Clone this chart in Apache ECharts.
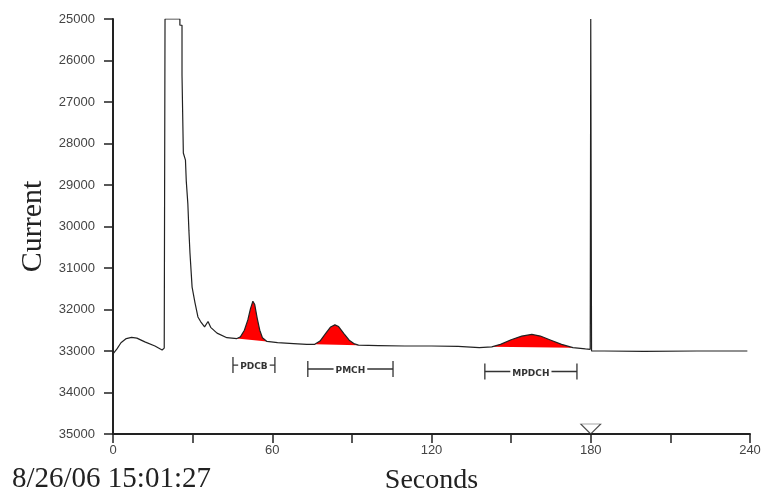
<!DOCTYPE html>
<html>
<head>
<meta charset="utf-8">
<script src="https://cdn.jsdelivr.net/npm/echarts@6/dist/echarts.min.js"></script>
<style>
  html, body { margin: 0; padding: 0; background: #fff; }
  #main { width: 771px; height: 491px; }
</style>
</head>
<body>
<div id="main"></div>
<script>
// detector trace (seconds, current)
var traceT = [0, 1.5, 3, 5, 7, 9, 12, 15.8, 18.5, 19.3, 19.6, 25.2, 25.2, 26, 26, 26.5, 26.5, 27.3, 27.6, 28.2, 28.6, 29, 29.8, 30.9, 32,
  33, 34.5, 35.8, 36.8, 39.2, 42.9, 46.7,
  48, 49.5, 50.8, 51.8, 52.7, 53.4, 54.3, 55.3, 56.3, 58,
  62, 68, 73, 76,
  78, 80, 82, 83.6, 85, 87, 89, 91, 92.5,
  100, 110, 120, 130, 138, 142.7,
  146, 150, 154, 157.8, 161, 165, 169, 173.3,
  178, 179.8, 180, 180.3, 185, 200, 220, 239];
var traceV = [33070, 32950, 32800, 32700, 32670, 32690, 32780, 32880, 32975, 32930, 25000, 25000, 25150, 25150, 26350, 26350, 28230, 28400, 28900, 29450, 30100, 30640, 31460, 31840, 32180,
  32290, 32420, 32290, 32430, 32570, 32680, 32700,
  32660, 32500, 32250, 31980, 31800, 31880, 32200, 32500, 32680, 32770,
  32800, 32820, 32840, 32840,
  32760, 32590, 32420, 32370, 32410, 32580, 32740, 32830, 32860,
  32870, 32880, 32880, 32890, 32920, 32900,
  32840, 32730, 32640, 32600, 32640, 32740, 32840, 32920,
  32950, 32960, 25000, 33000, 33000, 33010, 33000, 33000];

// integrated peaks (red areas)
var peakStart = [46.7, 76, 142.7];
var peakEnd = [58, 92.5, 173.3];

// peak windows
var windowNames = ['PDCB', 'PMCH', 'MPDCH'];
var windowStart = [45.2, 73.4, 140.1];
var windowEnd = [61, 105.5, 174.8];
var windowLevel = [33340, 33434, 33494];

var marker = [[180, 35000]];

var trace = traceT.map(function (t, i) { return [t, traceV[i]]; });

var chart = echarts.init(document.getElementById('main'));

var option = {
  backgroundColor: '#fff',
  animation: false,
  grid: { left: 113, right: 21, top: 19, bottom: 57, outerBoundsMode: 'none', containLabel: false },
  graphic: [{
    type: 'text',
    left: 12,
    top: 465,
    style: {
      text: '8/26/06 15:01:27',
      font: '29px "Liberation Serif", serif',
      fill: '#222'
    }
  }],
  xAxis: {
    type: 'value',
    min: 0,
    max: 240,
    interval: 30,
    name: 'Seconds',
    nameLocation: 'middle',
    nameGap: 33,
    nameTextStyle: { fontFamily: 'Liberation Serif', fontSize: 28, color: '#222' },
    axisLine: { onZero: false, lineStyle: { color: '#222', width: 2 } },
    axisTick: { length: 9, lineStyle: { color: '#222', width: 1.5 } },
    axisLabel: {
      margin: 10,
      fontFamily: 'Liberation Sans',
      fontSize: 13,
      color: '#444',
      formatter: function (v) { return v % 60 === 0 ? String(v) : ''; }
    },
    splitLine: { show: false }
  },
  yAxis: {
    type: 'value',
    inverse: true,
    min: 25000,
    max: 35000,
    interval: 1000,
    name: 'Current',
    nameLocation: 'middle',
    nameGap: 59,
    nameTextStyle: { fontFamily: 'Liberation Serif', fontSize: 30, color: '#222' },
    axisLine: { show: true, lineStyle: { color: '#222', width: 2 } },
    axisTick: { show: true, length: 9, lineStyle: { color: '#222', width: 1.5 } },
    axisLabel: {
      margin: 18,
      fontFamily: 'Liberation Sans',
      fontSize: 13,
      color: '#444',
      formatter: function (v) { return String(v); }
    },
    splitLine: { show: false }
  },
  series: [
    {
      // red filled peak areas
      type: 'custom',
      z: 1,
      data: peakStart.map(function (s, i) { return [s, peakEnd[i]]; }),
      encode: { x: [0, 1] },
      renderItem: function (params, api) {
        var a = peakStart[params.dataIndex], b = peakEnd[params.dataIndex];
        var pts = [];
        for (var i = 0; i < traceT.length; i++) {
          if (traceT[i] >= a && traceT[i] <= b) pts.push(api.coord([traceT[i], traceV[i]]));
        }
        return { type: 'polygon', shape: { points: pts }, style: { fill: '#ff0000', stroke: null } };
      }
    },
    {
      type: 'line',
      z: 3,
      data: trace,
      showSymbol: false,
      symbol: 'none',
      lineStyle: { color: '#222', width: 1.2 },
      silent: true
    },
    {
      // labelled windows
      type: 'custom',
      z: 4,
      clip: false,
      data: windowStart.map(function (s, i) { return [s, windowEnd[i], windowLevel[i]]; }),
      encode: { x: [0, 1], y: 2 },
      renderItem: function (params, api) {
        var p0 = api.coord([api.value(0), api.value(2)]);
        var p1 = api.coord([api.value(1), api.value(2)]);
        var st = { stroke: '#333', lineWidth: 1.3 };
        return {
          type: 'group',
          children: [
            { type: 'line', shape: { x1: p0[0], y1: p0[1] - 8, x2: p0[0], y2: p0[1] + 8 }, style: st },
            { type: 'line', shape: { x1: p1[0], y1: p1[1] - 8, x2: p1[0], y2: p1[1] + 8 }, style: st },
            { type: 'line', shape: { x1: p0[0], y1: p0[1], x2: p1[0], y2: p1[1] }, style: st },
            {
              type: 'text',
              x: (p0[0] + p1[0]) / 2,
              y: p0[1] + 2,
              style: {
                text: windowNames[params.dataIndex],
                font: 'bold 9px "DejaVu Sans", sans-serif',
                fill: '#333',
                align: 'center',
                verticalAlign: 'middle',
                backgroundColor: '#fff',
                padding: [0, 2]
              }
            }
          ]
        };
      }
    },
    {
      // injection marker on the time axis
      type: 'scatter',
      z: 5,
      clip: false,
      data: marker,
      symbol: 'triangle',
      symbolRotate: 180,
      symbolSize: [20, 10],
      symbolOffset: [0, -5],
      itemStyle: { color: '#fff', borderColor: '#222', borderWidth: 1 },
      silent: true
    }
  ]
};

chart.setOption(option);
</script>
</body>
</html>
